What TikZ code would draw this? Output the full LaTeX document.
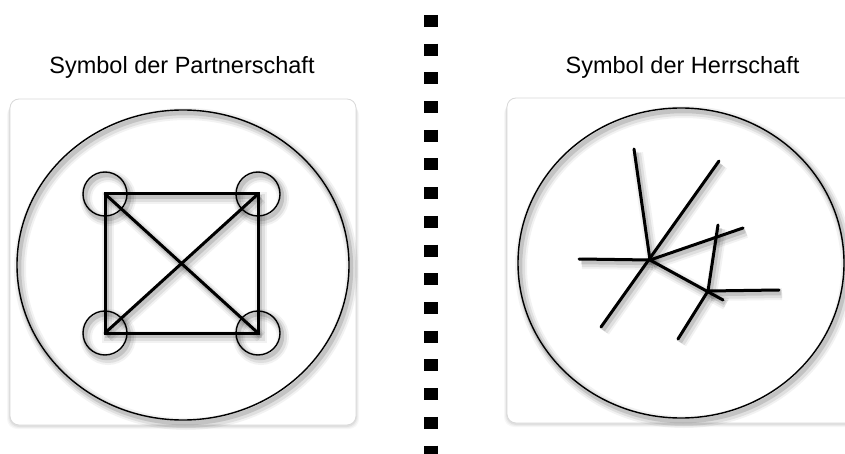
\documentclass[tikz,border=0pt]{standalone}
\usepackage{fontspec}
\setmainfont{Liberation Sans}
\usetikzlibrary{shapes.geometric}
\tikzset{
  shad/.style={
    preaction={draw=black, opacity=0.05, line width=12pt, transform canvas={shift={(3pt,-4pt)}}},
    preaction={draw=black, opacity=0.08, line width=8pt, transform canvas={shift={(3pt,-4pt)}}},
    preaction={draw=black, opacity=0.12, line width=4.5pt, transform canvas={shift={(2pt,-3pt)}}}},
  thick stroke/.style={shad, draw=black, line width=3pt, line cap=round, line join=miter},
  thin stroke/.style={shad, draw=black, line width=1.4pt},
  panel/.style={draw=black!15, fill=white, rounded corners=9pt, line width=0.8pt},
  title/.style={font=\fontsize{23.5}{26}\selectfont, anchor=base, inner sep=0pt},
  bigcirc/.style={ellipse, thin stroke, inner sep=0pt},
  smallcirc/.style={circle, thin stroke, minimum size=44pt, inner sep=0pt},
}
\begin{document}
\begin{tikzpicture}[x=1pt,y=-1pt]
\useasboundingbox (0,0) rectangle (845,454);
\clip (0,0) rectangle (845,454);
\fill[white] (0,0) rectangle (845,454);
% panels with soft shadow
\foreach \s/\o in {6/0.03,4/0.04,2/0.05}{
  \fill[black, opacity=\o, rounded corners=10pt] (10-\s/2,99+\s) rectangle (356+\s/2,425+\s/2+1);
  \fill[black, opacity=\o, rounded corners=10pt] (507-\s/2,98+\s) rectangle (860,423+\s/2+1);
}
\draw[panel] (10,99) rectangle (356,425);
\draw[panel] (507,98) rectangle (860,423);
% titles
\node[title] (tL) at (182,74) {Symbol der Partnerschaft};
\node[title] (tR) at (682.5,74) {Symbol der Herrschaft};
% dotted separator
\coordinate (sepT) at (431,15);
\coordinate (sepB) at (431,470);
\draw[line width=14pt, dash pattern=on 12pt off 16.7pt] (sepT) -- (sepB);
% left symbol
\node[bigcirc, minimum width=332pt, minimum height=310pt] (eL) at (183,265) {};
\coordinate (p1) at (105,194);
\coordinate (p2) at (258,194);
\coordinate (p3) at (258,333);
\coordinate (p4) at (105,333);
\draw[thick stroke] (p1) -- (p2) -- (p3) -- (p4) -- cycle;
\draw[thick stroke] (p1) -- (p3);
\draw[thick stroke] (p2) -- (p4);
\node[smallcirc] (c1) at (p1) {};
\node[smallcirc] (c2) at (p2) {};
\node[smallcirc] (c3) at (p3) {};
\node[smallcirc] (c4) at (p4) {};
% right symbol
\node[bigcirc, minimum width=326pt, minimum height=310pt] (eR) at (681,263) {};
\coordinate (A) at (650,260);
\coordinate (B) at (708,291);
\coordinate (a1) at (634,149);
\coordinate (a2) at (719,161);
\coordinate (a3) at (601,327);
\coordinate (a4) at (579,259);
\coordinate (a5) at (743,228);
\coordinate (a6) at (723,300);
\coordinate (b1) at (718,225);
\coordinate (b2) at (678,339);
\coordinate (b3) at (779,290);
\draw[thick stroke] (a1) -- (A);
\draw[thick stroke] (a2) -- (a3);
\draw[thick stroke] (a4) -- (A);
\draw[thick stroke] (A) -- (a5);
\draw[thick stroke] (A) -- (a6);
\draw[thick stroke, line join=round] (b1) -- (B) -- (b2);
\draw[thick stroke] (B) -- (b3);
\end{tikzpicture}
\end{document}
